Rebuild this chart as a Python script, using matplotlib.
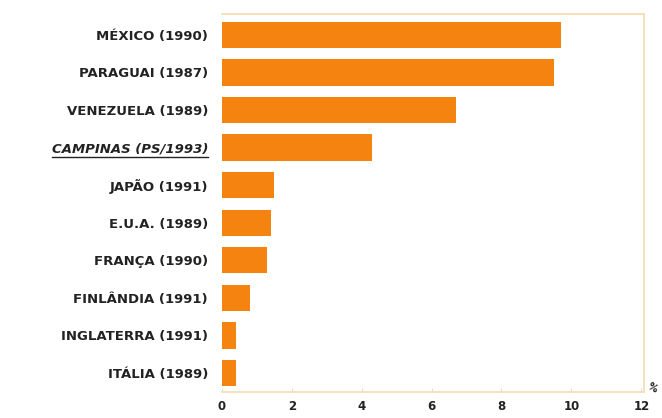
import matplotlib
matplotlib.use('Agg')
import matplotlib.pyplot as plt
from matplotlib.lines import Line2D
import numpy as np

plt.rcParams.update({
    'font.family': 'DejaVu Sans',
    'font.weight': 'bold',
})

BAR = '#F5830F'
FRAME = '#F3DDB0'

countries = ['MÉXICO (1990)', 'PARAGUAI (1987)', 'VENEZUELA (1989)',
             'CAMPINAS (PS/1993)', 'JAPÃO (1991)', 'E.U.A. (1989)',
             'FRANÇA (1990)', 'FINLÂNDIA (1991)', 'INGLATERRA (1991)',
             'ITÁLIA (1989)']
values = [9.7, 9.5, 6.7, 4.3, 1.5, 1.4, 1.3, 0.8, 0.4, 0.4]
xticks = [0, 2, 4, 6, 8, 10, 12]

fig = plt.figure(figsize=(6.62, 4.18), dpi=100)
ax = fig.add_axes([0.335, 0.062, 0.638, 0.905])

y = np.arange(len(countries))
ax.barh(y, values, height=0.7, color=BAR, edgecolor='none')
ax.set_ylim(9.51, -0.56)
ax.set_xlim(0, 12.08)

ax.set_yticks(y)
ax.set_yticklabels(countries, fontsize=9.5, fontweight='bold', color='#222222')
ax.tick_params(axis='y', length=0, pad=10)
ax.set_xticks(xticks)
ax.set_xticklabels([str(t) for t in xticks], fontsize=8.5, fontweight='bold', color='#222222')
ax.tick_params(axis='x', direction='in', length=3, color='#dddddd', pad=6)

for s in ['top', 'right', 'bottom']:
    ax.spines[s].set_color(FRAME)
    ax.spines[s].set_linewidth(1.2)
ax.spines['left'].set_visible(False)

# Campinas label: italic + underlined
lab = ax.get_yticklabels()[3]
lab.set_fontstyle('italic')
fig.canvas.draw()
bb = lab.get_window_extent().transformed(fig.transFigure.inverted())
fig.add_artist(Line2D([bb.x0, bb.x1], [bb.y0 - 0.004, bb.y0 - 0.004],
                      transform=fig.transFigure, color='#222222', lw=1.0))

fig.text(0.985, 0.072, '%', fontsize=7, fontweight='bold', ha='center', va='center',
         rotation=-30, color='#222222')

fig.savefig('out.png', dpi=100)
